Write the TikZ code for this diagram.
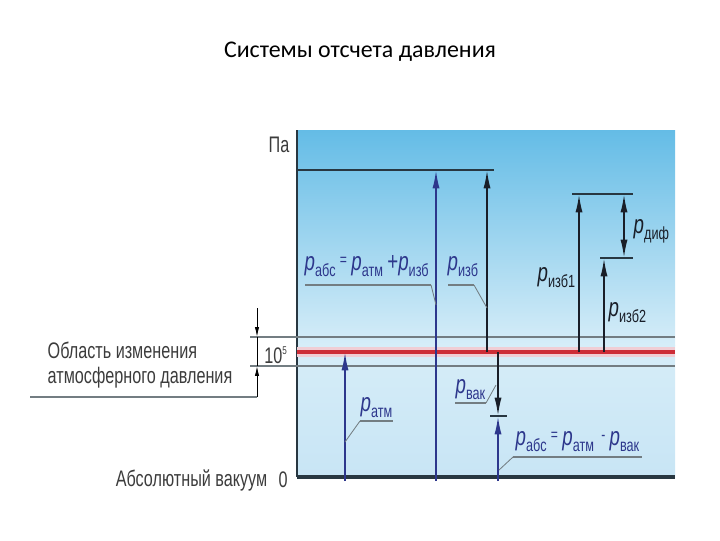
\documentclass[tikz,border=0pt]{standalone}
\usepackage{fontspec}
\usetikzlibrary{arrows.meta}
\newfontfamily\titlefont{Carlito}
\newfontfamily\narrowfont[FakeStretch=0.72]{Liberation Sans}
\definecolor{skytop}{RGB}{100,188,230}
\definecolor{skymid}{RGB}{214,237,248}
\definecolor{skylow}{RGB}{200,229,245}
\definecolor{navy}{RGB}{45,55,140}
\definecolor{slate}{RGB}{40,55,65}
\definecolor{ink}{RGB}{25,30,40}
\definecolor{rail}{RGB}{115,125,130}
\definecolor{atmred}{RGB}{205,45,55}
\definecolor{halo}{RGB}{240,205,212}
\definecolor{txtgray}{RGB}{60,60,60}
\def\yzero{477}
\def\yatm{352}
\newcommand{\pval}[1]{\textit{p}\raisebox{-4.5pt}{\fontsize{12.5}{12}\selectfont #1}}
\newcommand{\eqs}{\,\raisebox{3.5pt}{\fontsize{12}{12}\selectfont =}\,}
\newcommand{\mns}{\;\raisebox{3.5pt}{\fontsize{12}{12}\selectfont -}\,}

\begin{document}
\begin{tikzpicture}[x=0.025cm, y=-0.025cm, line width=1pt,
  lvl/.style={draw=slate, line width=1.1pt},
  rail/.style={draw=rail, line width=1.8pt},
  up/.style={-{Latex[length=13pt,width=5pt]}, line width=1.3pt},
  lead/.style={draw=rail, line width=0.6pt},
  uline/.style={draw=rail, line width=2pt},
  txt/.style={inner sep=0pt, text=txtgray, font=\narrowfont\fontsize{16}{16}\selectfont},
  lbl/.style={inner sep=0pt, anchor=base west, text=navy, font=\narrowfont\fontsize{18.5}{18}\selectfont}]

  \useasboundingbox (0,0) rectangle (720,540);

  % ---------- background ----------
  \shade[top color=skytop, bottom color=skymid] (297,130) rectangle (675,345);
  \shade[top color=skymid, bottom color=skylow] (297,345) rectangle (675,\yzero);
  \node[font=\titlefont\fontsize{17}{20}\selectfont] (title) at (360,52) {Системы отсчета давления};

  % ---------- axes ----------
  \draw[slate, line width=1.5pt] (297,130) -- (297,\yzero);
  \draw[slate, line width=2.2pt] (297,\yzero) -- (675,\yzero);
  \node[txt] (pa) at (279,145) {Па};
  \node[txt, anchor=east] (vac) at (268,480) {Абсолютный вакуум};
  \node[txt] (zero) at (283,480) {0};

  % ---------- atmospheric band ----------
  \draw[rail] (250,337) -- (675,337);
  \draw[rail] (250,366) -- (675,366);
  \draw[halo, line width=7pt] (297,\yatm) -- (675,\yatm);
  \draw[atmred, line width=3.5pt] (297,\yatm) -- (675,\yatm);
  \node[txt] (ten) at (276,355) {10\textsuperscript{\footnotesize 5}};
  \draw[line width=0.6pt, -{Latex[length=7pt,width=3pt]}] (257,308) -- (257,337);
  \draw[line width=0.6pt] (257,337) -- (257,366);
  \draw[line width=0.6pt, -{Latex[length=7pt,width=3pt]}] (257,397) -- (257,366);
  \draw[uline] (257,397) -- (30,397);
  \node[txt, anchor=west] (band1) at (47,350) {Область изменения};
  \node[txt, anchor=west] (band2) at (47,378) {атмосферного давления};

  % ---------- levels ----------
  \draw[lvl] (297,170) -- (494,170);
  \draw[lvl] (572,194) -- (633,194);
  \draw[lvl] (600,258) -- (633,258);
  \draw[lvl] (490,416) -- (507,416);

  % ---------- arrows ----------
  \coordinate (atmtop) at (345,\yatm);
  \coordinate (abstop) at (436,170);
  \coordinate (vaktip) at (498,416);
  \draw[up, navy] (345,481) -- (atmtop);
  \draw[up, navy] (436,481) -- (abstop);
  \draw[up, ink] (487,\yatm) -- (487,170);
  \draw[up, navy] (498,481) -- (vaktip);
  \draw[up, ink] (498,\yatm) -- (vaktip);
  \draw[up, ink] (579,\yatm) -- (579,194);
  \draw[up, ink] (604,\yatm) -- (604,258);
  \draw[{Latex[length=13pt,width=5pt]}-{Latex[length=13pt,width=5pt]}, ink, line width=1.3pt] (624,194) -- (624,258);

  % ---------- labels ----------
  \node[lbl] (pabs1) at (304,270) {\pval{абс}\eqs\pval{атм}\,+\pval{изб}};
  \draw[uline] (305,285) -- (431,285);
  \draw[lead] (431,285) -- (436,305);
  \node[lbl] (pizb) at (447,270) {\pval{изб}};
  \draw[uline] (448,285) -- (474,285);
  \draw[lead] (474,285) -- (487,308);
  \node[lbl, text=ink] (pizb1) at (537,281) {\pval{изб1}};
  \node[lbl, text=ink] (pizb2) at (608,316) {\pval{изб2}};
  \node[lbl, text=ink] (pdif) at (633,233) {\pval{диф}};
  \node[lbl] (patm) at (360,411) {\pval{атм}};
  \draw[uline] (360,421) -- (393,421);
  \draw[lead] (360,421) -- (345,442);
  \node[lbl] (pvak) at (455,393) {\pval{вак}};
  \draw[uline] (455,403) -- (486,403);
  \draw[lead] (486,403) -- (496,385);
  \node[lbl] (pabs2) at (515,445) {\pval{абс}\eqs\pval{атм}\mns\pval{вак}};
  \draw[uline] (513,457) -- (642,457);
  \draw[lead] (513,457) -- (499,470);

\end{tikzpicture}
\end{document}
